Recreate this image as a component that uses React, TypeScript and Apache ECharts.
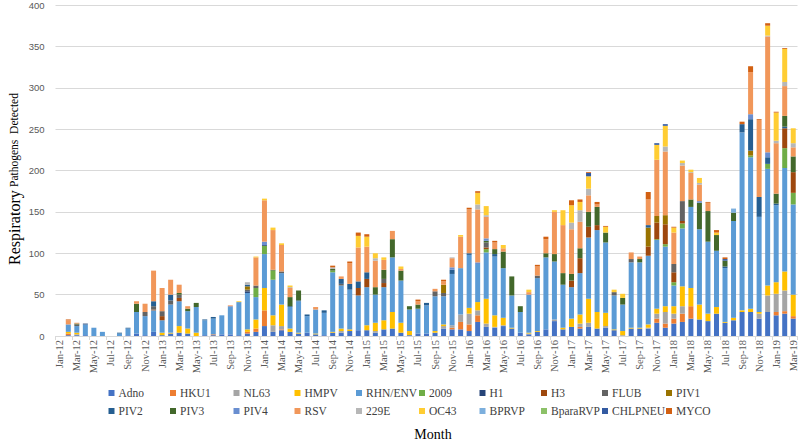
import React, { useEffect, useRef } from "react";
import * as echarts from "echarts";

const MONTH_NAMES = ["Jan", "Feb", "Mar", "Apr", "May", "Jun", "Jul", "Aug", "Sep", "Oct", "Nov", "Dec"];
const YEARS = ["12", "13", "14", "15", "16", "17", "18", "19"];
const LAST_MONTH = "Mar-19";

const categories: string[] = [];
outer: for (const y of YEARS) {
  for (const m of MONTH_NAMES) {
    const c = `${m}-${y}`;
    categories.push(c);
    if (c === LAST_MONTH) break outer;
  }
}

const SERIES_NAMES = [
  "Adno", "HKU1", "NL63", "HMPV", "RHN/ENV", "2009", "H1", "H3", "FLUB", "PIV1",
  "PIV2", "PIV3", "PIV4", "RSV", "229E", "OC43", "BPRVP", "BparaRVP", "CHLPNEU", "MYCO",
];

const COLORS = [
  "#4472C4", "#ED7D31", "#A5A5A5", "#FFC000", "#5B9BD5", "#70AD47", "#264478", "#9E480E", "#636363", "#997300",
  "#255E91", "#43682B", "#698ED0", "#F1975A", "#B7B7B7", "#FFCD33", "#7CAFDD", "#8CC168", "#335AA1", "#D26012",
];

const adno = [0,1,1,1,0,0,0,0,1,3, 1,5,1,3,4,3,0,1,1,2, 2,1,3,5,12,5,7,5,3,4, 2,1,4,4,6,7,7,4,8,9, 4,1,3,3,4,9,8,8,6,17, 11,10,12,9,4,2,5,8,18,8, 11,9,11,9,10,7,0,9,9,9, 16,10,15,17,21,20,18,27,16,19, 29,29,21,29,25,27,21];
const hku1 = [0,2,0,0,0,0,0,0,0,0, 0,0,0,0,0,0,0,0,1,0, 0,0,2,4,19,0,1,0,0,0, 0,0,0,0,0,0,0,0,0,0, 0,0,0,0,0,0,2,9,8,8, 0,0,0,0,0,0,0,0,0,0, 0,2,0,0,0,0,0,0,0,0, 5,5,6,10,15,0,0,0,0,0, 0,0,0,0,4,3,3];
const nl63 = [0,0,1,0,0,0,0,0,0,0, 0,0,0,0,0,0,0,0,0,0, 0,0,0,0,0,8,4,0,0,0, 0,0,0,2,0,0,0,2,0,0, 0,0,0,0,0,3,3,9,13,6, 4,1,1,0,0,1,0,0,2,0, 0,4,5,0,2,0,1,0,0,1, 6,14,6,9,0,0,0,0,0,0, 0,0,6,20,22,25,0];
const hmpv = [0,2,2,0,0,0,0,0,0,0, 0,0,3,1,8,6,4,0,0,0, 0,0,3,11,27,12,26,4,1,0, 1,0,1,3,2,0,6,10,11,20, 12,5,0,0,2,2,0,0,7,10, 30,14,9,1,0,1,1,0,0,2, 10,11,29,20,16,1,5,1,1,4, 6,7,9,24,22,18,9,8,1,3, 2,4,2,12,14,23,26];
const rhnEnv = [0,9,8,13,10,5,0,3,8,26, 23,26,15,34,30,21,31,18,19,23, 33,40,44,27,41,43,38,26,38,20, 29,27,72,52,48,42,46,34,40,66, 51,26,30,34,42,34,62,56,64,46, 56,71,60,39,25,46,64,87,70,52, 38,50,74,99,85,41,32,79,79,83, 83,72,25,70,98,91,87,68,65,117, 215,183,115,141,93,125,109];
const h2009 = [0,0,0,0,0,0,0,0,0,0, 0,0,0,0,0,0,0,0,0,0, 0,0,0,11,10,11,0,0,0,0, 0,0,2,0,0,0,0,0,0,0, 0,0,0,0,0,0,0,0,0,0, 4,0,0,0,0,0,0,0,0,0, 0,0,0,0,0,0,0,0,0,0, 1,3,4,6,0,0,0,0,0,0, 0,2,0,6,0,24,14];
const h1 = [0,0,0,1,0,0,0,0,0,0, 0,0,0,0,0,0,0,0,0,0, 0,0,2,0,1,0,0,0,0,0, 0,0,0,0,0,0,0,0,0,0, 0,0,0,0,0,0,0,0,0,0, 0,0,0,0,0,0,0,0,0,0, 0,0,0,0,0,0,0,0,0,0, 0,0,0,0,0,0,0,0,0,0, 0,0,0,0,0,0,0];
const h3 = [0,0,0,0,0,0,0,0,0,0, 0,1,5,0,4,0,0,0,0,0, 0,0,0,0,0,0,0,0,0,0, 0,0,0,0,0,9,10,0,5,0, 0,0,0,0,0,0,0,0,0,0, 2,0,0,0,0,0,0,0,0,0, 8,18,13,6,0,0,0,0,0,11, 20,24,12,3,0,0,0,0,0,0, 0,0,0,0,0,24,25];
const flub = [0,0,2,0,0,0,0,0,0,0, 5,4,6,5,4,0,0,0,0,0, 0,0,2,3,0,0,2,0,0,0, 0,0,0,2,0,0,0,0,5,0, 0,0,0,0,6,4,0,0,0,0, 6,0,0,0,0,0,3,0,0,0, 0,0,0,0,0,4,0,4,0,0, 0,0,10,24,0,0,0,0,0,0, 0,0,0,0,0,0,0];
const piv1 = [0,0,0,0,0,0,0,0,0,0, 0,0,0,0,0,0,0,0,0,0, 0,0,4,0,0,0,0,0,0,0, 0,0,0,0,0,0,0,0,0,0, 0,0,0,0,0,10,0,0,0,0, 0,0,0,0,0,0,0,0,0,0, 0,0,0,0,0,0,0,0,0,23, 8,11,0,0,0,0,0,0,0,0, 0,6,0,0,0,0,0];
const piv2 = [0,0,0,0,0,0,0,1,1,0, 0,6,0,7,0,0,0,1,2,0, 0,0,2,0,0,0,0,1,1,2, 0,3,0,6,7,8,8,0,0,0, 0,0,0,3,0,0,5,0,2,0, 0,3,0,0,0,0,0,0,0,0, 0,0,0,0,0,0,0,0,0,3, 0,0,0,0,0,0,0,0,2,0, 10,38,24,8,2,2,0];
const piv3 = [0,0,1,0,0,0,0,0,0,10, 0,0,0,0,2,3,5,0,0,0, 0,0,0,0,0,1,0,11,12,0, 0,0,2,0,0,0,0,9,11,22, 12,4,5,0,0,0,0,0,0,0, 2,6,20,23,7,0,0,5,9,14, 8,12,18,22,12,0,8,0,4,0, 0,0,0,0,9,32,37,19,7,10, 0,0,0,0,12,13,19];
const piv4 = [0,0,0,0,0,0,0,0,0,0, 0,0,0,0,0,0,0,0,0,0, 1,0,0,0,4,0,0,0,0,0, 0,0,0,0,0,0,0,0,0,0, 0,0,0,0,0,0,3,0,0,2, 3,0,0,0,0,0,0,0,0,0, 0,0,0,0,0,0,0,0,0,0, 0,0,0,0,0,2,0,0,0,0, 0,6,0,6,0,0,0];
const rsv = [0,5,1,0,0,0,0,0,0,3, 10,37,28,18,10,3,0,0,0,0, 1,0,0,34,50,48,32,11,0,0, 3,0,0,3,25,41,31,32,12,10, 2,0,4,0,3,4,11,38,53,64, 26,8,4,0,0,3,11,17,51,58, 54,32,20,3,0,0,0,8,3,31, 68,77,38,43,32,20,10,0,0,0, 0,51,93,140,61,36,11];
const e229 = [0,0,0,0,0,0,0,0,0,0, 0,0,0,0,0,0,0,0,0,0, 0,0,3,0,0,0,0,1,0,0, 0,0,2,0,0,0,0,3,0,0, 0,0,0,0,0,0,1,0,0,6, 2,0,0,0,0,0,0,0,0,0, 8,14,8,0,0,0,0,0,0,0, 0,6,0,3,1,2,0,0,0,0, 0,0,0,1,3,5,5];
const oc43 = [0,0,0,0,0,0,0,0,0,0, 0,0,0,0,0,0,0,0,0,0, 0,1,0,1,2,3,2,2,0,0, 0,0,0,0,0,14,12,6,3,0, 3,0,0,0,0,0,0,2,0,14, 11,0,4,0,0,3,0,0,2,18, 21,10,15,0,7,3,5,0,0,0, 18,25,6,3,3,6,0,3,0,0, 0,0,0,12,34,40,18];
const bprvp = [0,0,0,0,0,0,0,0,0,0, 0,0,0,0,0,0,0,0,0,0, 0,0,0,0,0,0,0,0,0,0, 0,0,0,0,0,0,0,0,0,0, 0,0,0,0,0,0,0,0,0,0, 0,0,0,0,0,0,0,0,0,0, 0,0,0,0,0,0,0,0,0,0, 0,0,0,0,0,0,0,0,0,5, 0,0,0,0,0,0,0];
const bpararvp = [0,0,0,0,0,0,0,0,0,0, 0,0,0,0,0,0,0,0,0,0, 0,0,0,0,0,0,0,0,0,0, 0,0,0,0,0,0,0,0,0,0, 0,0,0,0,0,0,0,0,0,0, 0,0,0,0,0,0,0,0,0,0, 0,0,0,0,0,0,0,0,0,0, 0,0,0,0,0,0,0,0,0,0, 0,0,0,0,0,0,0];
const chlpneu = [0,0,0,0,0,0,0,0,0,0, 0,0,0,0,0,0,0,0,0,0, 0,0,0,0,0,0,0,0,0,0, 0,0,0,0,0,0,0,0,0,0, 0,0,0,0,0,0,0,0,0,0, 0,0,0,0,0,0,0,0,0,0, 0,0,4,0,0,0,0,0,0,0, 2,2,0,0,0,0,0,0,2,0, 0,0,0,0,0,0,0];
const myco = [0,1,0,0,0,0,0,0,0,0, 0,0,0,0,0,0,0,0,0,0, 0,0,0,0,0,0,0,0,0,0, 0,0,2,0,2,4,3,0,0,0, 0,0,2,0,0,2,0,0,2,2, 0,2,0,0,0,0,2,3,0,0, 6,3,1,3,1,0,0,0,0,9, 0,0,1,0,0,0,1,3,2,0, 3,7,1,3,1,1,0];

const SERIES_DATA = [
  adno, hku1, nl63, hmpv, rhnEnv, h2009, h1, h3, flub, piv1,
  piv2, piv3, piv4, rsv, e229, oc43, bprvp, bpararvp, chlpneu, myco,
];

const Y_TICKS_MAX = 400;
const Y_INTERVAL = 50;

const LEGEND_COL_X = [108.5, 170, 233.5, 294.5, 356, 419, 479.5, 541, 602, 666];

export default function App() {
  const ref = useRef<HTMLDivElement>(null);

  useEffect(() => {
    if (!ref.current) return;
    const chart = echarts.init(ref.current, null, { renderer: "svg" });
    const serif = "'Liberation Serif', 'Times New Roman', serif";

    const legends = LEGEND_COL_X.map((x, c) => ({
      orient: "vertical",
      left: x,
      top: 387,
      data: [SERIES_NAMES[c], SERIES_NAMES[c + 10]],
      icon: "rect",
      itemWidth: 6,
      itemHeight: 6,
      itemGap: 6,
      selectedMode: false,
      padding: 0,
      textStyle: { fontFamily: serif, fontSize: 11.5, color: "#404040", padding: [0, 0, 0, -1] },
    }));

    chart.setOption({
      animation: false,
      backgroundColor: "#ffffff",
      grid: { left: 55.5, right: 2.5, top: 5, bottom: 105, containLabel: false },
      legend: legends,
      xAxis: {
        type: "category",
        data: categories,
        boundaryGap: true,
        axisLine: { show: true, lineStyle: { color: "#D9D9D9", width: 1 } },
        axisTick: { show: true, interval: 1, length: 4, lineStyle: { color: "#D9D9D9" } },
        axisLabel: {
          interval: 1,
          rotate: 90,
          margin: 4,
          fontFamily: serif,
          fontSize: 10.5,
          color: "#595959",
        },
        splitLine: { show: false },
      },
      yAxis: {
        type: "value",
        min: 0,
        max: Y_TICKS_MAX,
        interval: Y_INTERVAL,
        axisLine: { show: false },
        axisTick: { show: false },
        axisLabel: { fontFamily: "'Liberation Sans', Arial, sans-serif", fontSize: 9.5, color: "#595959", margin: 11 },
        splitLine: { show: true, lineStyle: { color: "#D9D9D9", width: 1 } },
      },
      graphic: [
        {
          type: "text",
          x: 14,
          y: 179,
          rotation: Math.PI / 2,
          style: {
            text: "{a|Respiratory} {b|Pathogens  Detected}",
            align: "center",
            verticalAlign: "middle",
            fill: "#000000",
            rich: {
              a: { fontFamily: serif, fontSize: 16, fill: "#000000" },
              b: { fontFamily: serif, fontSize: 11.5, fill: "#000000" },
            },
          },
        },
        {
          type: "text",
          x: 433,
          y: 434,
          style: {
            text: "Month",
            align: "center",
            verticalAlign: "middle",
            fontFamily: serif,
            fontSize: 14,
            fill: "#000000",
          },
        },
      ],
      series: SERIES_NAMES.map((name, i) => ({
        name,
        type: "bar",
        stack: "total",
        barWidth: 5,
        data: SERIES_DATA[i],
        itemStyle: { color: COLORS[i] },
        emphasis: { disabled: true },
      })),
    });

    return () => chart.dispose();
  }, []);

  return <div ref={ref} style={{ width: 800, height: 441, position: "absolute", left: 0, top: 0 }} />;
}
